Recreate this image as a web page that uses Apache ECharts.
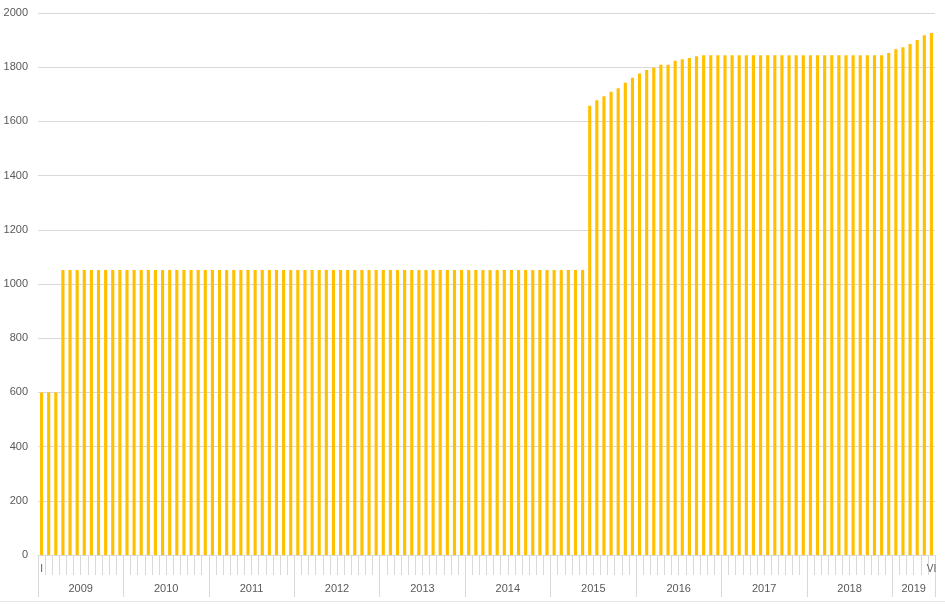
<!DOCTYPE html>
<html>
<head>
<meta charset="utf-8">
<script src="https://cdn.jsdelivr.net/npm/echarts@6/dist/echarts.min.js"></script>
<style>
html,body{margin:0;padding:0;background:#fff;}
#chart{width:945px;height:605px;}
</style>
</head>
<body>
<div id="chart"></div>
<script>
// Years shown on the lower axis level and number of months each covers
const years = ['2009','2010','2011','2012','2013','2014','2015','2016','2017','2018','2019'];
const monthsPerYear = [12,12,12,12,12,12,12,12,12,12,6];
const romanMonths = ['I','II','III','IV','V','VI','VII','VIII','IX','X','XI','XII'];
const yTicks = [0,200,400,600,800,1000,1200,1400,1600,1800,2000];

// Monthly values, Jan 2009 .. Jun 2019
const values2009 = [600,600,600,1052,1052,1052,1052,1052,1052,1052,1052,1052];
const values2010 = [1052,1052,1052,1052,1052,1052,1052,1052,1052,1052,1052,1052];
const values2011 = [1052,1052,1052,1052,1052,1052,1052,1052,1052,1052,1052,1052];
const values2012 = [1052,1052,1052,1052,1052,1052,1052,1052,1052,1052,1052,1052];
const values2013 = [1052,1052,1052,1052,1052,1052,1052,1052,1052,1052,1052,1052];
const values2014 = [1052,1052,1052,1052,1052,1052,1052,1052,1052,1052,1052,1052];
const values2015 = [1052,1052,1052,1052,1052,1658,1678,1693,1709,1722,1743,1761];
const values2016 = [1777,1790,1798,1809,1809,1824,1829,1834,1840,1844,1844,1844];
const values2017 = [1844,1844,1844,1844,1844,1844,1844,1844,1844,1844,1844,1844];
const values2018 = [1844,1844,1844,1844,1844,1844,1844,1844,1844,1844,1844,1852];
const values2019 = [1866,1874,1886,1900,1918,1926];

const values = [].concat(values2009,values2010,values2011,values2012,values2013,values2014,
  values2015,values2016,values2017,values2018,values2019);

// Build month categories
const categories = [];
years.forEach((y, yi) => {
  for (let m = 0; m < monthsPerYear[yi]; m++) categories.push(y + '-' + romanMonths[m]);
});
const total = categories.length;

// Year boundaries and centres (in month units) for the lower axis level
const yearBounds = [0];
const yearCenters = [];
let acc = 0;
monthsPerYear.forEach(n => { yearCenters.push(acc + n / 2); acc += n; yearBounds.push(acc); });

const chart = echarts.init(document.getElementById('chart'));
const gridColor = '#d9d9d9';
const textColor = '#595959';

const option = {
  animation: false,
  grid: { left: 38, right: 10, top: 13, bottom: 50, containLabel: false },
  xAxis: [
    {
      type: 'category',
      data: categories,
      boundaryGap: true,
      axisLine: { show: true, lineStyle: { color: gridColor, width: 1 } },
      axisTick: { show: true, interval: 0, length: 20, lineStyle: { color: gridColor, width: 1 } },
      axisLabel: {
        interval: 0,
        margin: 9,
        fontSize: 10,
        color: textColor,
        fontFamily: 'Liberation Sans, Arial, sans-serif',
        formatter: function (v, i) {
          if (i === 0 || i === total - 1) return v.split('-')[1];
          return '';
        }
      },
      splitLine: { show: false }
    },
    {
      type: 'value',
      min: 0,
      max: total,
      position: 'bottom',
      axisLine: { show: false },
      splitLine: { show: false },
      axisTick: {
        show: true,
        length: 42,
        customValues: yearBounds,
        lineStyle: { color: gridColor, width: 1 }
      },
      axisLabel: {
        show: true,
        margin: 28,
        fontSize: 11,
        color: textColor,
        fontFamily: 'Liberation Sans, Arial, sans-serif',
        customValues: yearCenters,
        formatter: function (v) {
          const idx = yearCenters.indexOf(v);
          return idx >= 0 ? years[idx] : '';
        }
      }
    }
  ],
  yAxis: {
    type: 'value',
    min: yTicks[0],
    max: yTicks[yTicks.length - 1],
    interval: 200,
    axisLine: { show: false },
    axisTick: { show: false },
    axisLabel: {
      margin: 10,
      fontSize: 11,
      color: textColor,
      fontFamily: 'Liberation Sans, Arial, sans-serif',
      formatter: function (v) { return String(v); }
    },
    splitLine: { show: true, lineStyle: { color: gridColor, width: 1 } }
  },
  series: [
    {
      type: 'bar',
      xAxisIndex: 0,
      data: values,
      barWidth: '44%',
      itemStyle: { color: '#FFC000' }
    }
  ],
  graphic: [
    {
      type: 'line',
      shape: { x1: 0, y1: 601.5, x2: 945, y2: 601.5 },
      style: { stroke: '#e3e3e3', lineWidth: 1 },
      silent: true
    }
  ]
};

chart.setOption(option);
</script>
</body>
</html>
